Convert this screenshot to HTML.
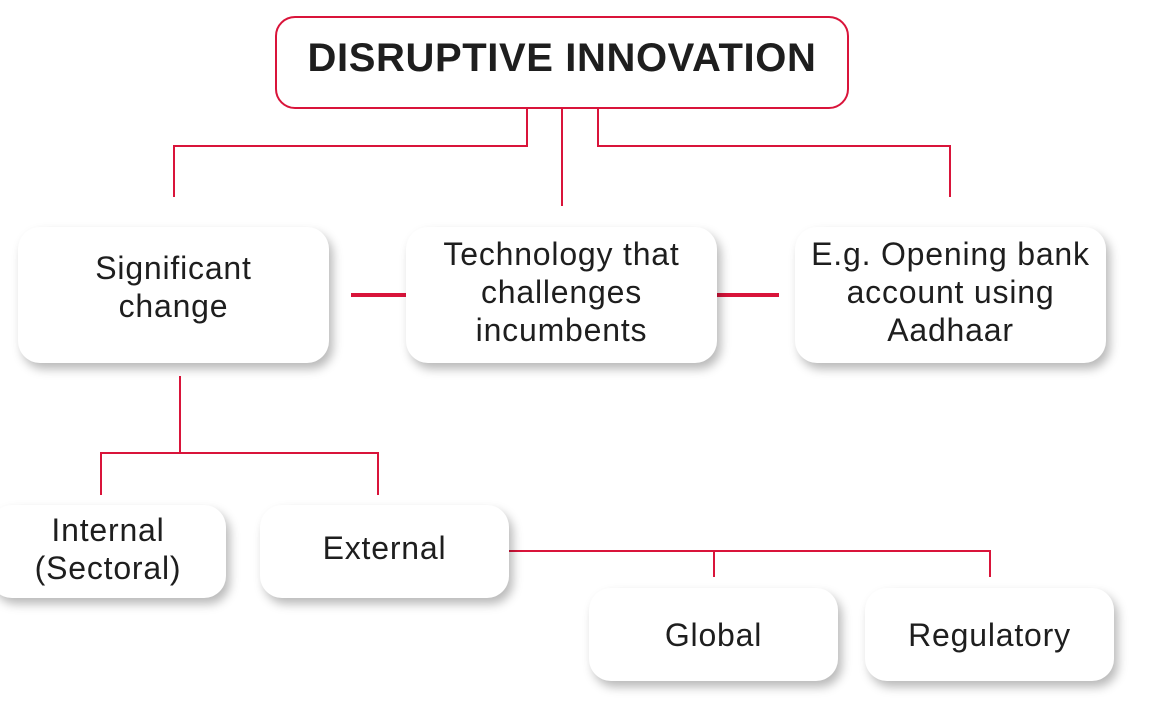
<!DOCTYPE html>
<html><head><meta charset="utf-8"><style>
body{margin:0;width:1151px;height:707px;background:#fff;position:relative;overflow:hidden;font-family:"Liberation Sans",sans-serif;}
.b{position:absolute;background:#fff;border-radius:22px;box-shadow:4px 6px 10px rgba(0,0,0,0.28);display:flex;align-items:center;justify-content:center;text-align:center;color:#1e1e1e;font-size:32px;line-height:38px;letter-spacing:0.8px;box-sizing:border-box;}
svg{position:absolute;left:0;top:0;}
</style></head><body>
<svg width="1151" height="707">
<g stroke="#d9143a" stroke-width="2" fill="none">
<path d="M527 109V146H174V197"/>
<path d="M562 109V206"/>
<path d="M598 109V146H950V197"/>
<path d="M180 376V453M101 495V453H378V495"/>
<path d="M509 551H990V577M714 551V577"/>
</g>
<g stroke="#d9143a" stroke-width="4">
<path d="M351 295H406M717 295H779"/>
</g>
</svg>
<div class="b" style="left:275px;top:16px;width:574px;height:93px;border:2px solid #d9143a;border-radius:20px;box-shadow:none;font-weight:bold;font-size:40px;letter-spacing:0.6px;padding-bottom:10px">DISRUPTIVE INNOVATION</div>
<div class="b" style="left:18px;top:227px;width:311px;height:136px;padding-bottom:16px;">Significant<br>change</div>
<div class="b" style="left:406px;top:227px;width:311px;height:136px;padding-bottom:6px;">Technology that<br>challenges<br>incumbents</div>
<div class="b" style="left:795px;top:227px;width:311px;height:136px;padding-bottom:6px;">E.g. Opening bank<br>account using<br>Aadhaar</div>
<div class="b" style="left:-10px;top:505px;width:236px;height:93px;padding-bottom:6px;">Internal<br>(Sectoral)</div>
<div class="b" style="left:260px;top:505px;width:249px;height:93px;padding-bottom:8px;">External</div>
<div class="b" style="left:589px;top:588px;width:249px;height:93px;">Global</div>
<div class="b" style="left:865px;top:588px;width:249px;height:93px;">Regulatory</div>
</body></html>
